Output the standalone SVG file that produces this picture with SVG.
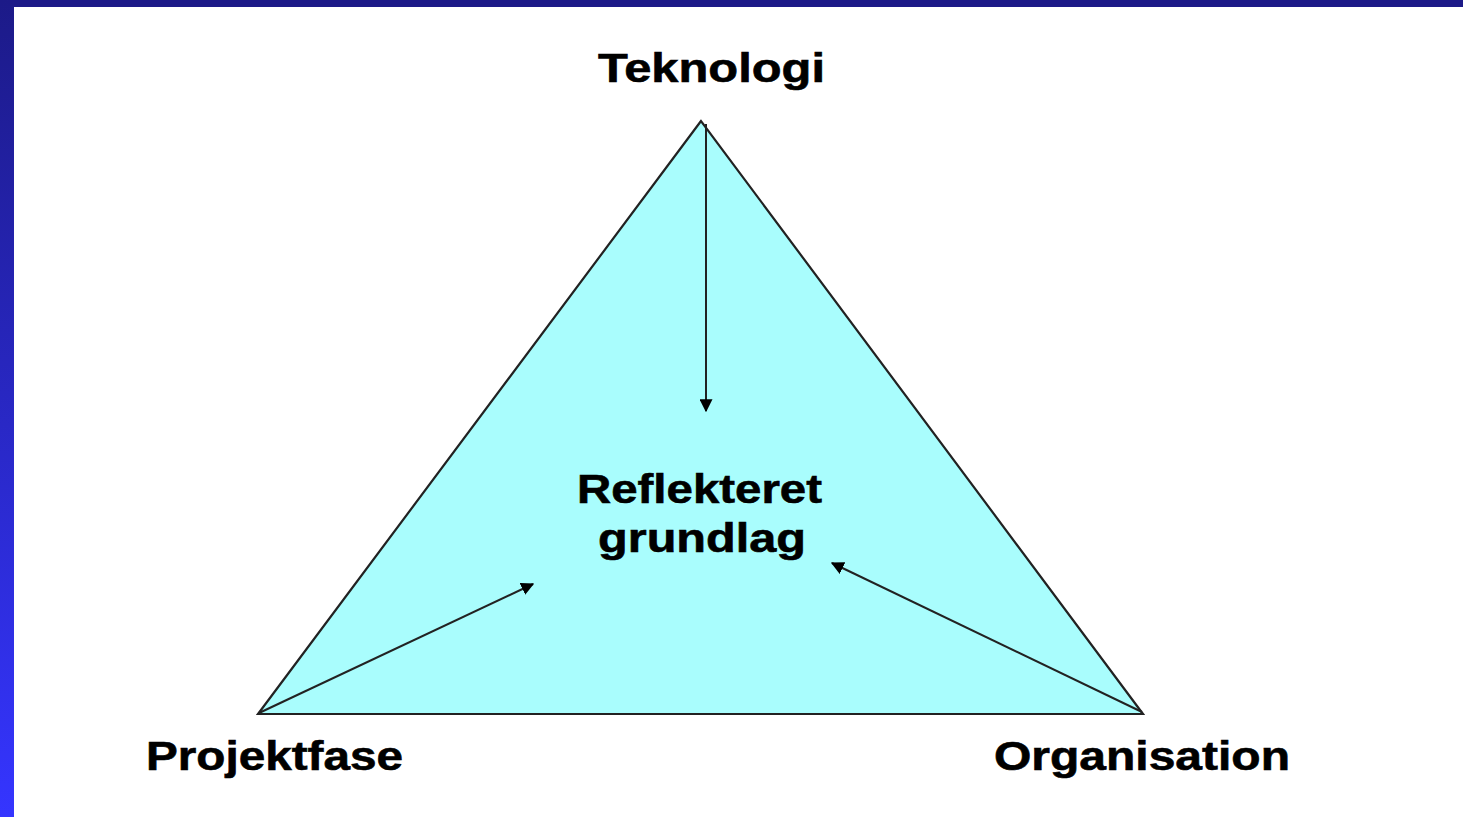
<svg xmlns="http://www.w3.org/2000/svg" width="1463" height="817" viewBox="0 0 1463 817">
<defs>
<linearGradient id="side" x1="0" y1="0" x2="0" y2="1">
<stop offset="0" stop-color="#1c1a88"/>
<stop offset="1" stop-color="#3535ff"/>
</linearGradient>
<marker id="ah" viewBox="0 0 10 10" refX="9" refY="5" markerWidth="13" markerHeight="13" markerUnits="userSpaceOnUse" orient="auto">
<path d="M0,0 L10,5 L0,10 z" fill="#000"/>
</marker>
<style>
.lbl{font-family:"Liberation Sans",Arial,sans-serif;font-weight:bold;font-size:40px;fill:#000;stroke:#000;stroke-width:0.6;}
.con{stroke:#222;stroke-width:2;fill:none;marker-end:url(#ah);}
</style>
</defs>
<rect x="0" y="0" width="1463" height="817" fill="#fff"/>
<rect x="0" y="0" width="1463" height="7" fill="#1c1a88"/>
<rect x="0" y="0" width="14" height="817" fill="url(#side)"/>
<g id="triangle">
<polygon points="701,121 258,714 1143,714" fill="#a9fdfd" stroke="#222" stroke-width="2.2"/>
</g>
<g id="connectors">
<line class="con" x1="706" y1="124" x2="706" y2="411"/>
<line class="con" x1="259" y1="713" x2="533" y2="584"/>
<line class="con" x1="1142" y1="712" x2="832" y2="563"/>
</g>
<g id="teknologi"><text class="lbl" x="598" y="82" textLength="227" lengthAdjust="spacingAndGlyphs">Teknologi</text></g>
<g id="reflekteret"><text class="lbl" x="577" y="503" textLength="245" lengthAdjust="spacingAndGlyphs">Reflekteret</text><text class="lbl" x="598" y="552" textLength="208" lengthAdjust="spacingAndGlyphs">grundlag</text></g>
<g id="projektfase"><text class="lbl" x="146" y="770" textLength="257" lengthAdjust="spacingAndGlyphs">Projektfase</text></g>
<g id="organisation"><text class="lbl" x="994" y="770" textLength="296" lengthAdjust="spacingAndGlyphs">Organisation</text></g>
</svg>
